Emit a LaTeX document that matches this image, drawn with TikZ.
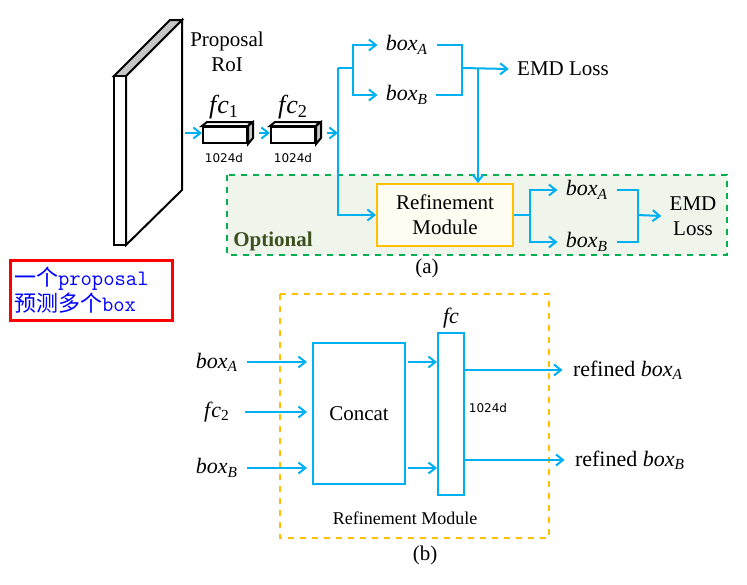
\documentclass[tikz,border=0pt]{standalone}
\usepackage{fontspec}
\setmainfont{Liberation Serif}
\newfontfamily\cjkfont{Noto Sans CJK SC}
\newfontfamily\dimfont{DejaVu Sans}
\usetikzlibrary{arrows.meta}

\definecolor{flowblue}{RGB}{0,176,240}
\definecolor{optgreen}{RGB}{0,176,80}
\definecolor{optfill}{RGB}{240,245,236}
\definecolor{opttext}{RGB}{63,80,32}
\definecolor{modyellow}{RGB}{255,192,0}
\definecolor{modfill}{RGB}{255,252,242}
\newcommand\itsub[2]{\textit{#1}\textsubscript{#2}}

\begin{document}
\begin{tikzpicture}[x=.5pt, y=-.5pt,
  txt/.style={font=\fontsize{10.5}{12.5}\selectfont},
  varlbl/.style={font=\fontsize{11}{13}\selectfont},
  boxlbl/.style={varlbl, inner xsep=4pt, inner ysep=1pt},
  dimlbl/.style={font=\dimfont\fontsize{6}{7}\selectfont},
  wire/.style={draw=flowblue, line width=1pt},
  flow/.style={wire, -{Straight Barb[length=3.5pt,width=5.5pt]}},
  fcbox/.style={draw, line width=1pt, fill=white, minimum width=22pt, minimum height=8pt, inner sep=0pt},
  bluebox/.style={draw=flowblue, line width=1pt, fill=white, inner sep=0pt}]
\useasboundingbox (0,0) rectangle (747,584);

\draw[line width=1pt, fill=white] (126,76) -- (182,20) -- (182,190) -- (126,245) -- cycle;
\draw[line width=1pt, fill=gray!45] (114,76) -- (170,20) -- (182,20) -- (126,76) -- cycle;
\draw[line width=1pt, fill=white] (114,76) rectangle (126,245);
\node[txt, align=center] at (227,52) (roi) {Proposal\\RoI};
\coordinate (roiout) at (185,133);

\node[fcbox] at (225,135) (fc1) {};
\draw[line width=1pt, fill=white] (fc1.north west) -- ++(5,-4) -- ++(44,0) -- (fc1.north east) -- cycle;
\draw[line width=1pt, fill=gray!45] (fc1.north east) -- ++(5,-4) -- ++(0,16) -- (fc1.south east) -- cycle;
\node[font=\fontsize{13}{15}\selectfont] at (224,107) (fc1lbl) {\itsub{f\kern.5pt c}{1}};
\node[dimlbl] at (224,158) (fc1dim) {1024d};

\node[fcbox] at (293,135) (fc2) {};
\draw[line width=1pt, fill=white] (fc2.north west) -- ++(5,-4) -- ++(44,0) -- (fc2.north east) -- cycle;
\draw[line width=1pt, fill=gray!45] (fc2.north east) -- ++(5,-4) -- ++(0,16) -- (fc2.south east) -- cycle;
\node[font=\fontsize{13}{15}\selectfont] at (293,107) (fc2lbl) {\itsub{f\kern.5pt c}{2}};
\node[dimlbl] at (293,158) (fc2dim) {1024d};

\draw[flow] (roiout) -- (fc1.west |- roiout);
\draw[flow, shorten <=3pt] ([xshift=2.5pt]fc1.east |- roiout) -- (fc2.west |- roiout);

\draw[draw=optgreen, dashed, line width=1pt, fill=optfill] (227,175) rectangle (727,255);
\node[font=\fontsize{10.5}{12.5}\selectfont\bfseries, text=opttext] at (273,241) (opt) {Optional};

\coordinate (trunk) at (338,133);
\coordinate (split) at (338,68);
\coordinate (fork1) at (353,68);
\coordinate (join1) at (462,68);
\coordinate (drop) at (478,68);
\draw[flow, shorten <=3pt] ([xshift=2.5pt]fc2.east |- roiout) -- (trunk);

\node[boxlbl] at (407,45) (boxA1) {\itsub{box}{\textit{A}}};
\node[boxlbl] at (407,95) (boxB1) {\itsub{box}{\textit{B}}};
\node[txt, inner xsep=4pt] at (563,69) (emd1) {EMD Loss};
\node[txt, draw=modyellow, line width=1pt, fill=modfill, align=center, minimum width=68pt, minimum height=31pt, inner sep=0pt] at (445,215) (refine) {Refinement\\Module};

\draw[wire] (split) -- (fork1);
\draw[flow] (fork1) |- (boxA1.west);
\draw[flow] (fork1) |- (boxB1.west);
\draw[wire] (boxA1.east) -| (join1) |- (boxB1.east);
\draw[flow] (join1) -- (emd1.west);
\draw[flow] (drop) -- (drop |- refine.north);
\draw[flow] (split) |- (refine.west);

\coordinate (fork2) at (530,215);
\coordinate (join2) at (638,215);
\node[boxlbl] at (587,190) (boxA2) {\itsub{box}{\textit{A}}};
\node[boxlbl] at (587,242) (boxB2) {\itsub{box}{\textit{B}}};
\node[txt, align=center, inner xsep=4pt] at (693,216) (emd2) {EMD\\Loss};
\draw[wire] (refine.east) -- (fork2);
\draw[flow] (fork2) |- (boxA2.west);
\draw[flow] (fork2) |- (boxB2.west);
\draw[wire] (boxA2.east) -| (join2) |- (boxB2.east);
\draw[flow] (join2) -- (emd2.west);
\node[txt] at (427,268) (capa) {(a)};

\node[draw=red, line width=1.5pt, text=blue, align=left, text width=77pt, inner xsep=2pt, minimum height=30pt, font=\fontsize{11}{11.5}\selectfont] at (91,290) (note) {{\cjkfont 一个}{\ttfamily proposal}\\{\cjkfont 预测多个}{\ttfamily box}};

\draw[draw=modyellow, dashed, line width=1pt] (280,294) rectangle (549,538);
\node[bluebox, txt, minimum width=46pt, minimum height=70.5pt] at (359,413.5) (concat) {Concat};
\node[bluebox, minimum width=13pt, minimum height=81pt] at (451,414) (fcbar) {};
\node[varlbl] at (451,318) (fclbl) {\textit{fc}};
\node[dimlbl] at (488,408) (fcdim) {1024d};

\node[varlbl] at (217,362) (inA) {\itsub{box}{\textit{A}}};
\node[varlbl] at (217,412) (inF) {\itsub{f\kern.5pt c}{2}};
\node[varlbl] at (217,468) (inB) {\itsub{box}{\textit{B}}};
\draw[flow, shorten >=2.5pt] ([xshift=1pt]inA.east) -- (inA.east -| concat.west);
\draw[flow, shorten >=2.5pt] ([xshift=4pt]inF.east) -- (inF.east -| concat.west);
\draw[flow, shorten >=2.5pt] ([xshift=1pt]inB.east) -- (inB.east -| concat.west);
\draw[flow, shorten <=1pt] (concat.east |- inA.east) -- (fcbar.west |- inA.east);
\draw[flow, shorten <=1pt] (concat.east |- inB.east) -- (fcbar.west |- inB.east);

\node[varlbl, inner xsep=5pt] at (628,370) (outA) {refined \itsub{box}{\textit{A}}};
\node[varlbl, inner xsep=5pt] at (630,460) (outB) {refined \itsub{box}{\textit{B}}};
\draw[flow] (fcbar.east |- outA.west) -- (outA.west);
\draw[flow] (fcbar.east |- outB.west) -- (outB.west);
\node[font=\fontsize{9}{10}\selectfont] at (405,518) (rmcap) {Refinement Module};
\node[txt] at (425,555) (capb) {(b)};
\end{tikzpicture}
\end{document}
